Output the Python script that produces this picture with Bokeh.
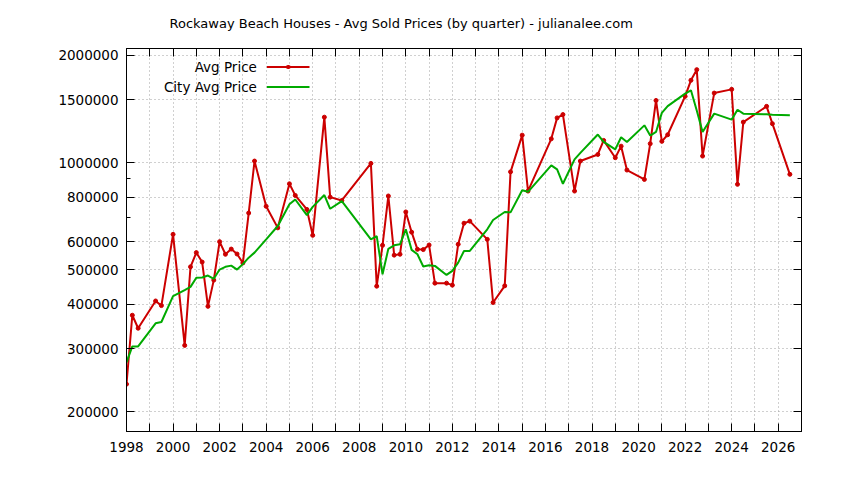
from bokeh.plotting import figure
from bokeh.models import (Range1d, LogAxis, LinearAxis, FixedTicker, Label, Arrow,
                          NumeralTickFormatter, ColumnDataSource, CustomLabelingPolicy)
from bokeh.embed import file_html
from bokeh.resources import INLINE

# ---------------- data ----------------
quarters = [
    1998.00, 1998.25, 1998.50, 1999.25, 1999.50, 2000.00, 2000.50, 2000.75,
    2001.00, 2001.25, 2001.50, 2001.75, 2002.00, 2002.25, 2002.50, 2002.75,
    2003.00, 2003.25, 2003.50, 2004.00, 2004.50, 2005.00, 2005.25, 2005.75,
    2006.00, 2006.50, 2006.75, 2007.25, 2008.50, 2008.75, 2009.00, 2009.25,
    2009.50, 2009.75, 2010.00, 2010.25, 2010.50, 2010.75, 2011.00, 2011.25,
    2011.75, 2012.00, 2012.25, 2012.50, 2012.75, 2013.50, 2013.75, 2014.25,
    2014.50, 2015.00, 2015.25, 2016.25, 2016.50, 2016.75, 2017.25, 2017.50,
    2018.25, 2018.50, 2019.00, 2019.25, 2019.50, 2020.25, 2020.50, 2020.75,
    2021.00, 2021.25, 2022.00, 2022.25, 2022.50, 2022.75, 2023.25, 2024.00,
    2024.25, 2024.50, 2025.50, 2025.75, 2026.50,
]

avg_price = [
    239000, 373000, 343000, 409000, 397000, 629000, 307000, 510000,
    559000, 526000, 395000, 468000, 600000, 553000, 572000, 554000,
    523000, 722000, 1010000, 754000, 656000, 872000, 809000, 739000,
    625000, 1341000, 800000, 783000, 995000, 450000, 586000, 806000,
    550000, 553000, 727000, 638000, 571000, 570000, 587000, 459000,
    459000, 453000, 590000, 676000, 685000, 609000, 405000, 451000,
    942000, 1194000, 832000, 1166000, 1335000, 1364000, 832000, 1010000,
    1054000, 1154000, 1032000, 1112000, 953000, 897000, 1130000, 1494000,
    1147000, 1197000, 1534000, 1702000, 1823000, 1043000, 1567000, 1605000,
    869000, 1299000, 1438000, 1286000, 927000,
]

city_avg_price = [
    275000, 305000, 305000, 354000, 357000, 422000, 439000, 448000,
    475000, 476000, 482000, 472000, 501000, 510000, 514000, 501000,
    519000, 541000, 559000, 609000, 664000, 764000, 788000, 712000,
    751000, 811000, 742000, 780000, 609000, 622000, 486000, 573000,
    586000, 590000, 650000, 569000, 553000, 511000, 515000, 513000,
    484000, 497000, 524000, 565000, 565000, 650000, 690000, 727000,
    725000, 836000, 828000, 982000, 957000, 872000, 1021000, 1065000,
    1199000, 1143000, 1089000, 1178000, 1143000, 1272000, 1191000, 1219000,
    1379000, 1440000, 1562000, 1595000, 1400000, 1218000, 1372000, 1320000,
    1407000, 1372000, 1366000, 1362000, 1357000,
]

title_text = "Rockaway Beach Houses - Avg Sold Prices (by quarter) - julianalee.com"
series_names = ["Avg Price", "City Avg Price"]
x_label_years = list(range(1998, 2027, 2))
x_minor_years = list(range(1999, 2028, 2))
y_major_ticks = [200000, 300000, 400000, 500000, 600000, 800000, 1000000, 1500000, 2000000]
y_minor_ticks = [700000, 900000]

# ---------------- style ----------------
FONT = "DejaVu Sans"
FS = "13.5px"
RED = "#cc0000"
GREEN = "#00aa00"
GRID = "#a0a0a0"

p = figure(width=836, height=472,
           x_range=Range1d(1998, 2027), y_range=Range1d(176000, 2090000),
           y_axis_type="log", output_backend="svg", toolbar_location=None,
           min_border_left=126, min_border_right=35, min_border_top=48, min_border_bottom=41,
           x_axis_location=None, y_axis_location=None)
p.background_fill_color = "white"
p.border_fill_color = "white"
p.outline_line_color = "black"
p.outline_line_width = 1

x_ticker = FixedTicker(ticks=x_label_years, minor_ticks=x_minor_years)
y_ticker = FixedTicker(ticks=y_major_ticks, minor_ticks=y_minor_ticks)


def style_axis(ax, labels, minor_len):
    ax.axis_line_color = "black"
    ax.axis_line_width = 1
    ax.major_tick_in = 8
    ax.major_tick_out = 0
    ax.minor_tick_in = minor_len
    ax.minor_tick_out = 0
    ax.major_tick_line_color = "black"
    ax.minor_tick_line_color = "black"
    ax.major_label_text_font = FONT
    ax.major_label_text_color = "black"
    if labels:
        ax.major_label_text_font_size = FS
    else:
        ax.major_label_text_font_size = "1px"
        ax.major_label_standoff = 0
        ax.major_label_policy = CustomLabelingPolicy(code="return []")


xb = LinearAxis(ticker=x_ticker)
style_axis(xb, True, 8)
xb.major_label_standoff = 10
xt = LinearAxis(ticker=x_ticker)
style_axis(xt, False, 8)
yl = LogAxis(ticker=y_ticker, formatter=NumeralTickFormatter(format="0"))
style_axis(yl, True, 4)
yl.major_label_standoff = 8
yr = LogAxis(ticker=y_ticker)
style_axis(yr, False, 4)
p.add_layout(xb, "below")
p.add_layout(xt, "above")
p.add_layout(yl, "left")
p.add_layout(yr, "right")

p.xgrid.ticker = x_ticker
p.ygrid.ticker = y_ticker
for g in (p.xgrid[0], p.ygrid[0]):
    g.grid_line_color = GRID
    g.grid_line_dash = "1 3"
    g.grid_line_width = 1
p.xgrid.minor_grid_line_color = GRID
p.xgrid.minor_grid_line_dash = "1 3"
p.xgrid.minor_grid_line_width = 1

p.title.text = title_text
p.title.text_font = FONT
p.title.text_font_size = "13px"
p.title.text_font_style = "normal"
p.title.align = "left"
p.title.offset = 43
p.title.standoff = 27
p.title.text_color = "black"

src = ColumnDataSource(dict(q=quarters, avg=avg_price, city=city_avg_price))
p.line("q", "avg", source=src, line_color=RED, line_width=2)
p.scatter("q", "avg", source=src, marker="circle", size=4, fill_color=RED, line_color=RED)
p.line("q", "city", source=src, line_color=GREEN, line_width=2)

# ---------------- key (gnuplot style: text then sample) ----------------
FH = 382
key_rows = [(series_names[0], RED, 17.4, True), (series_names[1], GREEN, 37.4, False)]
for name, col, dy, marker in key_rows:
    ys = FH - dy
    p.add_layout(Label(x=130.4, y=ys, x_units="screen", y_units="screen", text=name,
                       text_align="right", text_baseline="middle", text_font=FONT,
                       text_font_size=FS, text_color="black"))
    p.add_layout(Arrow(x_start=140.4, y_start=ys, x_end=183.0, y_end=ys,
                       start_units="screen", end_units="screen", end=None,
                       line_color=col, line_width=2))
    if marker:
        p.add_layout(Arrow(x_start=161.4, y_start=ys, x_end=162.2, y_end=ys,
                           start_units="screen", end_units="screen", end=None,
                           line_color=col, line_width=4, line_cap="round"))

open("out.html", "w").write(file_html(p, INLINE))
